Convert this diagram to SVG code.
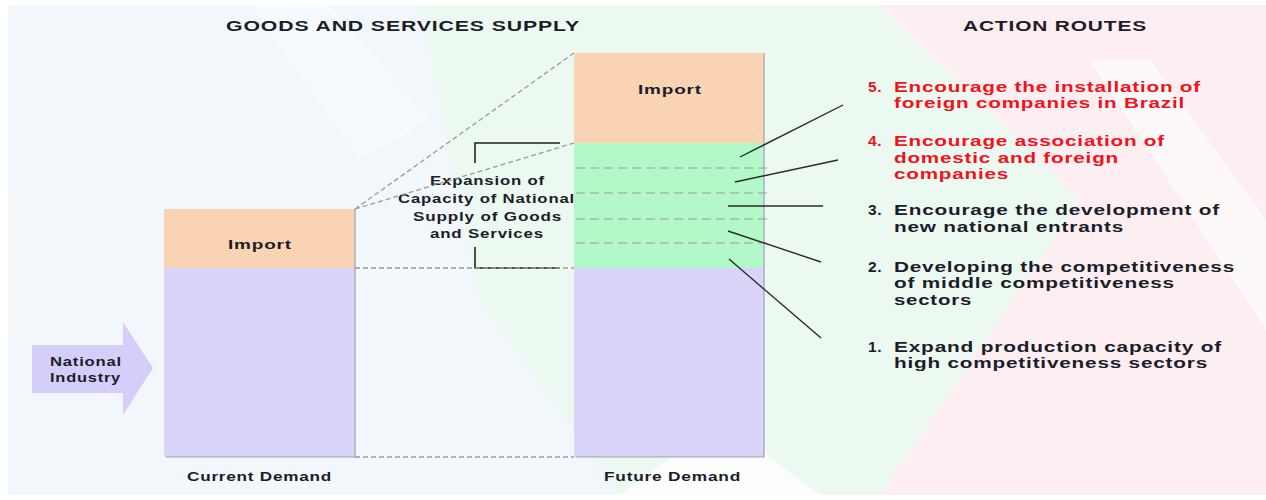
<svg xmlns="http://www.w3.org/2000/svg" width="1266" height="500" viewBox="0 0 1266 500">
<defs>
<style>
text{font-family:"Liberation Sans",Arial,sans-serif;font-weight:bold;fill:#1c1c2a;letter-spacing:0.6px}
.t{font-size:14.5px}
.r{font-size:15.5px}
.red{fill:#f2121c}
.s{font-size:12.5px}
.m{font-size:13.5px}
.dash{stroke:#9a9a9a;stroke-width:1.3;stroke-dasharray:5,3;fill:none}
.gd{stroke:#a8b8ac;stroke-width:1.3;stroke-dasharray:9,5;fill:none}
.con{stroke:#2a2a2a;stroke-width:1.4;fill:none}
.edge{stroke:#a0a0b0;stroke-width:1.2;fill:none}
</style>
<pattern id="po" width="4" height="4" patternUnits="userSpaceOnUse">
<rect width="4" height="4" fill="#fbd8ba"/><path d="M0 4L4 0" stroke="#f4c49c" stroke-width="0.8"/>
</pattern>
<pattern id="pp" width="4" height="4" patternUnits="userSpaceOnUse">
<rect width="4" height="4" fill="#ddd7fb"/><path d="M0 4L4 0" stroke="#cdc5f4" stroke-width="0.8"/>
</pattern>
</defs>
<g id="background">
<rect x="0" y="0" width="1266" height="500" fill="#ffffff"/>
<rect x="8" y="5" width="1258" height="490" fill="#f1f7fa"/>
<polygon points="420,5 880,5 1080,200 880,495 620,495 480,300" fill="#ecf9f1"/>
<polygon points="880,5 1266,5 1266,495 880,495 1080,200" fill="#fdeff1"/>
<polygon points="1090,60 1150,60 1266,220 1266,330" fill="#ffffff" opacity="0.6"/>
<polygon points="250,5 330,5 430,120 360,160" fill="#ffffff" opacity="0.35"/>
<polygon points="620,495 720,420 820,495" fill="#ffffff" opacity="0.8"/>
<polygon points="8,200 60,150 130,220 8,340" fill="#ffffff" opacity="0.3"/>
</g>
<g id="titles">
<text class="t" x="226" y="31" textLength="354" lengthAdjust="spacingAndGlyphs">GOODS AND SERVICES SUPPLY</text>
<text class="t" x="963" y="31" textLength="184" lengthAdjust="spacingAndGlyphs">ACTION ROUTES</text>
</g>
<g id="current-demand">
<rect x="164" y="209" width="191" height="59" fill="url(#po)"/>
<rect x="164" y="268" width="191" height="189" fill="url(#pp)"/>
<path class="edge" d="M355 209V457H166"/>
<text class="m" x="228" y="249" textLength="64" lengthAdjust="spacingAndGlyphs">Import</text>
<text class="m" x="187" y="481" textLength="145" lengthAdjust="spacingAndGlyphs">Current Demand</text>
</g>
<g id="future-demand">
<rect x="574" y="53" width="190" height="90" fill="url(#po)"/>
<rect x="574" y="143" width="190" height="125" fill="#b3f8c7"/>
<rect x="574" y="268" width="190" height="189" fill="url(#pp)"/>
<line class="gd" x1="576" y1="168" x2="767" y2="168"/>
<line class="gd" x1="576" y1="193" x2="767" y2="193"/>
<line class="gd" x1="576" y1="219" x2="767" y2="219"/>
<line class="gd" x1="576" y1="243" x2="767" y2="243"/>
<path class="edge" d="M764 53V457H576"/>
<text class="m" x="638" y="94" textLength="64" lengthAdjust="spacingAndGlyphs">Import</text>
<text class="m" x="604" y="481" textLength="137" lengthAdjust="spacingAndGlyphs">Future Demand</text>
</g>
<g id="expansion">
<path d="M560 143H475V163M475 247V268H560" stroke="#222" stroke-width="1.6" fill="none"/>
<text class="s" x="430" y="185" textLength="115" lengthAdjust="spacingAndGlyphs">Expansion of</text>
<text class="s" x="398" y="203" textLength="177" lengthAdjust="spacingAndGlyphs">Capacity of National</text>
<text class="s" x="413" y="221" textLength="149" lengthAdjust="spacingAndGlyphs">Supply of Goods</text>
<text class="s" x="430" y="238" textLength="114" lengthAdjust="spacingAndGlyphs">and Services</text>
</g>
<g id="national-industry">
<polygon points="32,345 123,345 123,322 153,368 123,415 123,393 32,393" fill="#d6cefa"/>
<text class="s" x="50" y="366" textLength="72" lengthAdjust="spacingAndGlyphs">National</text>
<text class="s" x="50" y="382" textLength="71" lengthAdjust="spacingAndGlyphs">Industry</text>
</g>
<g id="connectors">
<line class="dash" x1="355" y1="209" x2="574" y2="53"/>
<line class="dash" x1="355" y1="209" x2="574" y2="143"/>
<line class="dash" x1="355" y1="268" x2="574" y2="268"/>
<line class="dash" x1="355" y1="457" x2="574" y2="457"/>
<line class="con" x1="740" y1="157" x2="843" y2="105"/>
<line class="con" x1="735" y1="182" x2="838" y2="160"/>
<line class="con" x1="728" y1="206" x2="823" y2="206"/>
<line class="con" x1="728" y1="231" x2="821" y2="262"/>
<line class="con" x1="729" y1="259" x2="821" y2="338"/>
</g>
<g id="route-5">
<text class="r red" x="868" y="92">5.</text>
<text class="r red" x="894" y="92" textLength="307" lengthAdjust="spacingAndGlyphs">Encourage the installation of</text>
<text class="r red" x="894" y="108" textLength="291" lengthAdjust="spacingAndGlyphs">foreign companies in Brazil</text>
</g>
<g id="route-4">
<text class="r red" x="868" y="146">4.</text>
<text class="r red" x="894" y="146" textLength="271" lengthAdjust="spacingAndGlyphs">Encourage association of</text>
<text class="r red" x="894" y="163" textLength="225" lengthAdjust="spacingAndGlyphs">domestic and foreign</text>
<text class="r red" x="894" y="179" textLength="115" lengthAdjust="spacingAndGlyphs">companies</text>
</g>
<g id="route-3">
<text class="r" x="868" y="215">3.</text>
<text class="r" x="894" y="215" textLength="326" lengthAdjust="spacingAndGlyphs">Encourage the development of</text>
<text class="r" x="894" y="232" textLength="230" lengthAdjust="spacingAndGlyphs">new national entrants</text>
</g>
<g id="route-2">
<text class="r" x="868" y="272">2.</text>
<text class="r" x="894" y="272" textLength="341" lengthAdjust="spacingAndGlyphs">Developing the competitiveness</text>
<text class="r" x="894" y="288" textLength="281" lengthAdjust="spacingAndGlyphs">of middle competitiveness</text>
<text class="r" x="894" y="305" textLength="78" lengthAdjust="spacingAndGlyphs">sectors</text>
</g>
<g id="route-1">
<text class="r" x="868" y="352">1.</text>
<text class="r" x="894" y="352" textLength="328" lengthAdjust="spacingAndGlyphs">Expand production capacity of</text>
<text class="r" x="894" y="368" textLength="314" lengthAdjust="spacingAndGlyphs">high competitiveness sectors</text>
</g>
</svg>
